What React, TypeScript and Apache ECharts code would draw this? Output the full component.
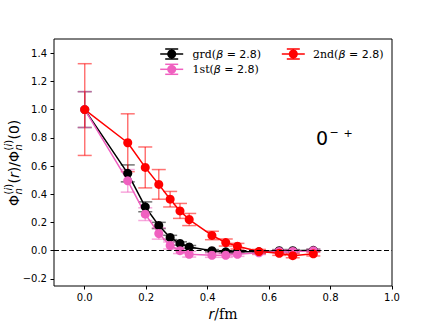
import React, { useEffect, useRef } from 'react';
import * as echarts from 'echarts';

// ---- data ----
const rValues = [0, 0.14, 0.197, 0.241, 0.278, 0.31, 0.34, 0.414, 0.459, 0.497, 0.567, 0.633, 0.677, 0.744];
const grdValues = [1.0, 0.548, 0.311, 0.179, 0.094, 0.051, 0.027, 0.0, -0.008, -0.008, -0.008, 0.0, 0.0, 0.003];
const grdErrors = [0.127, 0.06, 0.035, 0.022, 0.015, 0.012, 0.01, 0.008, 0.008, 0.008, 0.008, 0.008, 0.008, 0.008];
const firstValues = [1.0, 0.495, 0.259, 0.122, 0.037, 0.0, -0.025, -0.032, -0.032, -0.025, -0.015, -0.005, -0.005, 0.0];
const firstErrors = [0.127, 0.08, 0.045, 0.04, 0.025, 0.02, 0.02, 0.015, 0.015, 0.015, 0.012, 0.01, 0.01, 0.01];
const secondValues = [1.0, 0.765, 0.59, 0.47, 0.365, 0.282, 0.221, 0.108, 0.058, 0.032, -0.006, -0.018, -0.035, -0.022];
const secondErrors = [0.325, 0.205, 0.145, 0.105, 0.055, 0.053, 0.043, 0.03, 0.025, 0.02, 0.015, 0.015, 0.015, 0.015];

const xTicks = [0, 0.2, 0.4, 0.6, 0.8, 1.0];
const yTicks = [-0.2, 0, 0.2, 0.4, 0.6, 0.8, 1.0, 1.2, 1.4];
const seriesLabels = ['grd', '1st', '2nd'];
const betaLabel = '2.8';
const stateLabel = '0';

const BLACK = '#000000';
const PINK = '#f060c0';
const RED = '#ff0000';

function fmt(v: number) {
  const s = Math.abs(v).toFixed(1);
  return v < 0 ? '\u2212' + s : s;
}

function errorSeries(name: string, vals: number[], errs: number[], color: string) {
  return {
    type: 'custom',
    name: name + '_err',
    data: rValues.map((r, i) => [r, vals[i], errs[i]]),
    encode: { x: 0, y: 1 },
    silent: true,
    renderItem: (params: any, api: any) => {
      const x = api.value(0);
      const y = api.value(1);
      const e = api.value(2);
      const top = api.coord([x, y + e]);
      const bot = api.coord([x, y - e]);
      const cw = 7;
      const st = { stroke: color, lineWidth: 1.5, opacity: 0.55 };
      return {
        type: 'group',
        children: [
          { type: 'line', shape: { x1: top[0], y1: top[1], x2: bot[0], y2: bot[1] }, style: st },
          { type: 'line', shape: { x1: top[0] - cw, y1: top[1], x2: top[0] + cw, y2: top[1] }, style: st },
          { type: 'line', shape: { x1: bot[0] - cw, y1: bot[1], x2: bot[0] + cw, y2: bot[1] }, style: st },
        ],
      };
    },
  };
}

function lineSeries(name: string, vals: number[], color: string, extra: any = {}) {
  return {
    type: 'line',
    name,
    data: rValues.map((r, i) => [r, vals[i]]),
    symbol: 'circle',
    symbolSize: 9,
    showSymbol: true,
    lineStyle: { color, width: 1.5 },
    itemStyle: { color },
    silent: true,
    ...extra,
  };
}

function legendHandle(cx: number, cy: number, color: string) {
  const st = { stroke: color, lineWidth: 1.5 };
  return [
    { type: 'line', shape: { x1: cx - 11.5, y1: cy, x2: cx + 11.5, y2: cy }, style: st },
    { type: 'line', shape: { x1: cx, y1: cy - 5, x2: cx, y2: cy + 5 }, style: st },
    { type: 'line', shape: { x1: cx - 6.5, y1: cy - 5, x2: cx + 6.5, y2: cy - 5 }, style: st },
    { type: 'line', shape: { x1: cx - 6.5, y1: cy + 5, x2: cx + 6.5, y2: cy + 5 }, style: st },
    { type: 'circle', shape: { cx, cy, r: 4.5 }, style: { fill: color } },
  ];
}

function legendText(x: number, y: number, label: string) {
  return {
    type: 'text',
    x,
    y,
    style: {
      text: `{s|${label}(}{b|β}{m| = ${betaLabel}}{s|)}`,
      verticalAlign: 'middle',
      align: 'left',
      fill: '#000',
      rich: {
        s: { fontFamily: 'DejaVu Serif', fontSize: 11, fill: '#000' },
        b: { fontFamily: 'DejaVu Sans', fontStyle: 'italic', fontSize: 11, fill: '#000' },
        m: { fontFamily: 'DejaVu Sans', fontSize: 11, fill: '#000' },
      },
    },
  };
}

const ylabelRich = {
  it: { fontFamily: 'DejaVu Sans', fontStyle: 'italic', fontSize: 14, fill: '#000' },
  n: { fontFamily: 'DejaVu Sans', fontSize: 14, fill: '#000' },
  sit: { fontFamily: 'DejaVu Sans', fontStyle: 'italic', fontSize: 10, fill: '#000' },
  sn: { fontFamily: 'DejaVu Sans', fontSize: 10, fill: '#000' },
};

function yt(x: number, y: number, text: string) {
  return {
    type: 'text',
    x,
    y,
    style: { text, rich: ylabelRich, verticalAlign: 'middle', align: 'left', fill: '#000' },
  };
}

export default function App() {
  const ref = useRef<HTMLDivElement>(null);
  useEffect(() => {
    if (!ref.current) return;
    const chart = echarts.init(ref.current, undefined, { renderer: 'svg' });
    const option: any = {
      animation: false,
      backgroundColor: '#ffffff',
      grid: {
        left: 54,
        right: 44,
        top: 39,
        bottom: 41,
        show: true,
        borderColor: '#000',
        borderWidth: 1,
        backgroundColor: 'transparent',
      },
      xAxis: {
        type: 'value',
        min: -0.1,
        max: 1.0,
        axisLine: { show: false, onZero: false },
        axisTick: { show: true, length: 3.5, lineStyle: { color: '#000', width: 1 }, customValues: xTicks },
        axisLabel: {
          customValues: xTicks,
          formatter: (v: number) => fmt(v),
          fontFamily: 'DejaVu Sans',
          fontSize: 10,
          color: '#000',
          margin: 6,
        },
        splitLine: { show: false },
        name: '{i|r}{s|/fm}',
        nameLocation: 'middle',
        nameGap: 21,
        nameTextStyle: {
          rich: {
            i: { fontFamily: 'DejaVu Sans', fontStyle: 'italic', fontSize: 14, color: '#000' },
            s: { fontFamily: 'DejaVu Serif', fontSize: 14, color: '#000' },
          },
        },
      },
      yAxis: {
        type: 'value',
        min: -0.25,
        max: 1.5,
        axisLine: { show: false, onZero: false },
        axisTick: { show: true, length: 3.5, lineStyle: { color: '#000', width: 1 }, customValues: yTicks },
        axisLabel: {
          customValues: yTicks,
          formatter: (v: number) => fmt(v),
          fontFamily: 'DejaVu Sans',
          fontSize: 10,
          color: '#000',
          margin: 7,
        },
        splitLine: { show: false },
      },
      series: [
        errorSeries(seriesLabels[0], grdValues, grdErrors, BLACK),
        lineSeries(seriesLabels[0], grdValues, BLACK, {
          markLine: {
            silent: true,
            symbol: ['none', 'none'],
            label: { show: false },
            lineStyle: { color: '#000', type: [5, 2.5], width: 1.2 },
            data: [{ yAxis: 0 }],
          },
        }),
        errorSeries(seriesLabels[1], firstValues, firstErrors, PINK),
        lineSeries(seriesLabels[1], firstValues, PINK),
        errorSeries(seriesLabels[2], secondValues, secondErrors, RED),
        lineSeries(seriesLabels[2], secondValues, RED),
      ],
      graphic: [
        ...legendHandle(171.7, 54, BLACK),
        legendText(192.5, 54.5, seriesLabels[0]),
        ...legendHandle(293.3, 54, RED),
        legendText(313, 54.5, seriesLabels[2]),
        ...legendHandle(171.7, 69.3, PINK),
        legendText(192.5, 69.8, seriesLabels[1]),
        {
          type: 'text',
          x: 316,
          y: 138,
          style: { text: stateLabel, fontFamily: 'DejaVu Sans', fontSize: 19, fill: '#000', verticalAlign: 'middle' },
        },
        {
          type: 'text',
          x: 329.5,
          y: 132,
          style: { text: '\u2212', fontFamily: 'DejaVu Sans', fontSize: 11, fill: '#000', verticalAlign: 'middle' },
        },
        {
          type: 'text',
          x: 343.5,
          y: 133,
          style: { text: '+', fontFamily: 'DejaVu Sans', fontSize: 11, fill: '#000', verticalAlign: 'middle' },
        },
        {
          type: 'group',
          x: 14,
          y: 162,
          rotation: Math.PI / 2,
          children: [
            yt(-44, 0, '{n|Φ}'),
            yt(-32.5, 4, '{sit|n}'),
            yt(-32.5, -6, '{sn|(}{sit|i}{sn|)}'),
            yt(-21.5, 0, '{n|(}{it|r}{n|)/Φ}'),
            yt(11.5, 4, '{sit|n}'),
            yt(11.5, -6, '{sn|(}{sit|i}{sn|)}'),
            yt(22.5, 0, '{n|(0)}'),
          ],
        },
      ],
    };
    chart.setOption(option);
    return () => chart.dispose();
  }, []);
  return <div ref={ref} style={{ position: 'fixed', left: 0, top: 0, width: 436, height: 327 }} />;
}
